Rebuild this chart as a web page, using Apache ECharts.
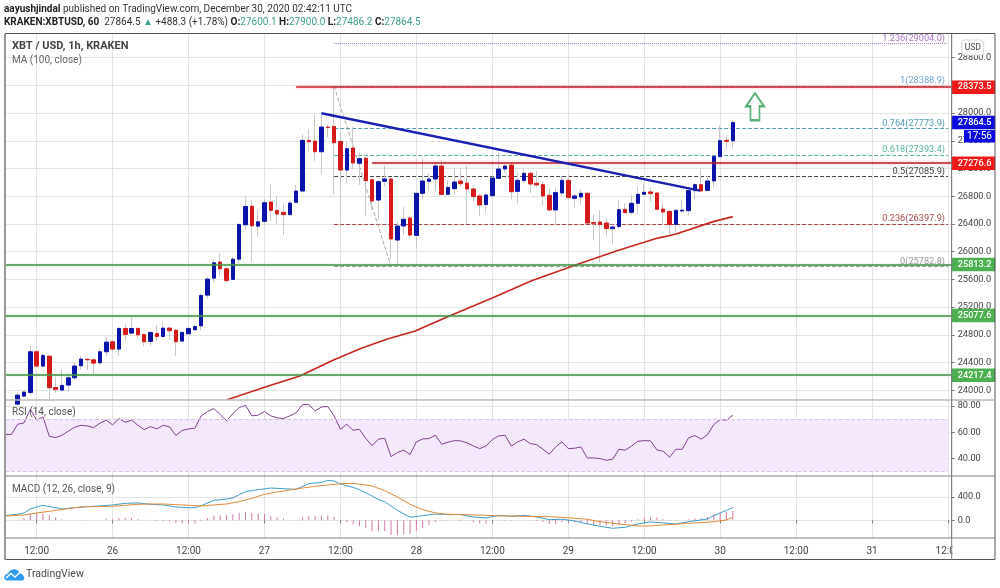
<!DOCTYPE html>
<html>
<head>
<meta charset="utf-8">
<style>html,body{margin:0;padding:0;background:#fff}#c{width:1000px;height:588px}</style>
<script src="https://cdn.jsdelivr.net/npm/echarts@6/dist/echarts.min.js"></script>
</head>
<body>
<div id="c"></div>
<script>
const candleHours = [9,10,11,12,13,14,15,16,17,18,19,20,21,22,23,24,25,26,27,28,29,30,31,32,33,34,35,36,37,38,39,40,41,42,43,44,45,46,47,48,49,50,51,52,53,54,55,56,57,58,59,60,61,62,63,64,65,66,67,68,69,70,71,72,73,74,75,76,77,78,79,80,81,82,83,84,85,86,87,88,89,90,91,92,93,94,95,96,97,98,99,100,101,102,103,104,105,106,107,108,109,110,111,112,113,114,115,116,117,118,119,120,121,122];
const opens = [23800,23916,23969,24556,24349,24493,24040,24003,24075,24180,24353,24447,24440,24397,24556,24700,24594,24892,24825,24892,24805,24705,24820,24776,24897,24868,24710,24815,24873,24930,25373,25618,25850,25753,25600,25892,26388,26657,26369,26438,26717,26596,26567,26534,26712,26875,27606,27596,27442,27798,27808,27592,27178,27496,27275,27347,27039,26745,27015,27049,26168,26370,26486,26235,26842,27015,27049,27236,26827,26909,27019,26990,26904,26804,26679,26808,27058,27193,27250,26870,27025,27131,26987,26967,26813,26602,26847,27030,26770,26790,26842,26420,26428,26414,26332,26361,26611,26568,26698,26828,26862,26847,26615,26582,26395,26587,26592,26881,26967,26885,27020,27371,27606,27600.1];
const closes = [23930,23974,24556,24349,24503,24036,24012,24070,24180,24350,24450,24440,24392,24556,24695,24594,24892,24805,24892,24800,24700,24835,24776,24897,24859,24700,24835,24892,24921,25368,25604,25840,25753,25585,25892,26393,26652,26374,26431,26707,26596,26544,26534,26702,26875,27606,27587,27442,27798,27790,27572,27178,27486,27280,27342,27025,26731,27010,27049,26183,26370,26467,26240,26842,27020,27049,27236,26827,26928,27005,26981,26904,26794,26674,26818,27063,27193,27236,26865,27029,27131,26977,26963,26804,26602,26852,27030,26780,26804,26842,26414,26410,26394,26332,26356,26606,26563,26698,26828,26857,26838,26611,26572,26390,26597,26600,26881,26967,26876,27020,27376,27602,27592,27864.5];
const lows = [23780,23900,23930,24340,24330,23870,23964,23995,23980,24155,24300,24290,24233,24363,24493,24546,24493,24714,24820,24733,24637,24642,24714,24760,24724,24493,24700,24805,24868,24868,25325,25556,25647,25541,25590,25830,26311,25855,26215,26385,26448,26400,26241,26525,26700,26865,27428,27308,27116,27650,26827,26409,26986,27188,26963,26505,26601,26457,26948,25895,25784,26240,26207,26048,26770,26881,26890,26820,26817,26832,26938,26400,26721,26515,26563,26795,27050,27131,26755,26698,26996,26842,26929,26660,26590,26395,26794,26770,26650,26674,26405,26178,25842,26217,26111,26350,26553,26530,26539,26820,26722,26600,26400,26241,26241,26553,26520,26760,26866,26880,26914,27360,27501,27486.2];
const highs = [23960,23990,24637,24580,24530,24510,24195,24300,24243,24400,24493,24460,24460,24604,24762,24720,24915,24955,25050,24915,24820,24845,24940,24978,24915,24885,24845,24915,24940,25407,25638,25888,25974,25780,25925,26410,26792,26744,26600,26770,26957,26803,26698,26730,26962,27693,27765,27972,27972,27838,28388,27731,27600,27803,27428,27400,27060,27030,27237,27060,26432,26650,26515,26870,27347,27131,27300,27322,27034,27202,27202,27236,26962,26840,26840,27106,27443,27260,27290,27131,27203,27170,27169,27010,26915,26929,27092,27106,26830,26900,26855,26539,26600,26481,26400,26746,26698,26818,26938,26986,26929,26855,26698,26590,26610,26750,26900,26990,27188,27092,27400,27828,27683,27900];

const rsiValues = [58.2,58.2,66.1,67.1,77.6,69.2,71.7,56.9,55.9,57.7,60.8,63.8,65.3,64.8,63.6,66.9,69.2,65.6,70.4,67.6,69.2,65.3,62,64.3,62.5,65.3,64.1,57.5,61.3,62.5,63.1,72.5,75.8,78.1,73.5,68.7,74.2,78.8,80.6,72.5,73,75.8,72.5,71,70.4,72.5,74.8,81.1,81.1,76.3,79.3,79.6,72.5,62.3,66.1,61.5,62.3,55.2,49.8,54.7,55.4,41.4,44.5,46.3,43,52.6,54.9,55.2,57.7,50.8,52.4,53.6,53.4,51.9,49.5,47.5,49.5,54.4,57.2,57.7,49.5,52.6,54.7,51.3,50.6,47,43.2,48.8,52.6,47.5,47.8,48.8,40.4,40.4,39.9,38.6,39.4,47,46.3,49.5,53.1,53.6,53.4,46.5,45.5,40.9,47,47,55.7,57.5,54.7,58.2,65.9,69.7,69.2,73];
const rsiStartHour = 7;

const macdHours = [7,9,10,11,12,13,14,15,16,18,20,22,24,26,28,30,32,34,36,37,38,40,42,43,45,47,49,51,53,55,57,58,59,60,62,63,65,66,67,69,71,73,75,77,79,81,83,85,87,89,91,93,95,97,99,101,103,105,107,109,111,113,115,117,118,119,120,121,122];
const macdValues = [80,103,126,194,228,257,234,217,194,217,234,246,263,291,297,274,263,228,217,217,251,343,365,383,491,525,554,542,531,628,651,685,674,622,565,525,417,354,320,171,51,80,108,97,97,57,40,86,69,86,57,11,17,-11,-63,-103,-137,-120,-63,-29,-46,-63,-23,6,23,80,126,171,217];
const signalHours = [7,10,12,14,16,18,20,22,24,26,28,30,32,34,36,38,40,42,44,46,48,50,52,54,56,58,60,62,64,65,67,69,71,73,75,77,79,81,83,85,87,89,91,93,95,97,99,101,103,105,107,109,111,113,115,117,119,121,122];
const signalValues = [74,91,126,154,183,217,234,234,240,257,274,280,280,268,257,246,263,280,320,377,445,485,520,554,582,605,628,634,605,588,508,400,274,183,126,103,97,91,86,74,74,69,63,63,51,34,17,-23,-51,-74,-97,-97,-80,-69,-51,-40,-23,6,51];
const histStartHour = 8;
const histValues = [6,11,34,103,126,114,91,51,17,6,6,6,6,6,6,29,17,40,40,40,23,11,0,-11,-17,-17,-46,-51,-57,-51,-11,40,80,86,86,103,131,148,126,108,108,69,51,29,6,6,46,69,69,86,86,57,0,-34,-69,-103,-137,-188,-183,-188,-251,-257,-240,-234,-183,-131,-80,-29,-11,-6,0,-11,-6,-34,-57,-57,-17,-6,6,-6,0,0,-6,-11,-29,-63,-63,-34,-46,-34,-46,-69,-74,-86,-91,-97,-80,-57,-23,17,46,57,46,17,-6,-6,0,17,34,40,57,103,126,143,160];

const maHours = [42,48,53.6,58.9,63.1,67.3,71.8,77.3,83.9,90.2,97.6,103.7,110,112.9,118.9,122];
const maValues = [23860,24043,24206,24437,24600,24736,24856,25076,25328,25581,25822,26014,26193,26251,26433,26505];

const trendHours = [57,116.8];
const trendValues = [27997,26880];
const diagHours = [59,68];
const diagValues = [28388.9,25782.8];

const fibRatios = ['1.236','1','0.764','0.618','0.5','0.236','0'];
const fibPrices = [29004.0,28388.9,27773.9,27393.4,27085.9,26397.9,25782.8];
const fibColors = ['#a678c4','#6fa8cc','#4f9db0','#4fb39c','#444444','#a84848','#9a9a9a'];

const hLevels = [28373.5,27276.6,25813.2,25077.6,24217.4];
const hStart = [53,65,7,7,7];
const hColors = ['#c4222a','#b5202a','#3f9142','#3f9142','#3f9142'];
const tagColors = ['#f21818','#f21818','#4caf50','#4caf50','#4caf50'];

const xTickHours = [12,24,36,48,60,72,84,96,108,120,132,144,156];
const xTickLabels = ['12:00','26','12:00','27','12:00','28','12:00','29','12:00','30','12:00','31','12:00'];
const priceTicks = [24000,24400,24800,25200,25600,26000,26400,26800,27200,27600,28000,28400,28800];
const rsiTicks = [40,60,80];
const macdTicks = [0,400];

const lastPrice = 27864.5;
const xMin = 7, xMax = 156.58, fibEnd = 156;
const FONT = 'Roboto, sans-serif';
const gridLine = {show:true, lineStyle:{color:'#e4e4e4', width:1}};

function zip(a,b){ return a.map((v,i)=>[v,b[i]]); }

function xAxis(i, showLabels){
  return {
    type:'value', gridIndex:i, min:xMin, max:xMax,
    splitLine:gridLine,
    axisLine:{show:false},
    axisTick:{show:showLabels, customValues:xTickHours, length:3, lineStyle:{color:'#777'}},
    axisLabel:{show:showLabels, customValues:xTickHours, margin:8, fontFamily:FONT, fontSize:10, color:'#444',
      formatter:v=>xTickLabels[xTickHours.indexOf(v)]}
  };
}
function yAxis(i,min,max,ticks,dec){
  return {
    type:'value', gridIndex:i, position:'right', min:min, max:max, scale:true,
    splitLine:gridLine,
    axisLine:{show:true, lineStyle:{color:'#777',width:1}},
    axisTick:{show:true, customValues:ticks, length:3, lineStyle:{color:'#777'}},
    axisLabel:{customValues:ticks, margin:6, fontFamily:FONT, fontSize:9.2, color:'#444',
      formatter:v=>v.toFixed(dec)}
  };
}
function tagLabel(p,color){
  return {show:true, position:'end', distance:0, formatter:p.toFixed(1), color:'#fff', fontFamily:FONT, fontSize:9.2, fontWeight:500,
          backgroundColor:color, padding:[2.5,0,2,6], width:37.5, align:'left'};
}

const fibLines = fibPrices.map((p,i)=>[
  {coord:[59,p], lineStyle:{color:fibColors[i],type:i===0?'dotted':'dashed',width:1},
   label:{show:true, position:'insideEndTop', distance:[0,2], offset:[-3,1.5], formatter:fibRatios[i]+'('+p.toFixed(1)+')', color:fibColors[i], fontFamily:FONT, fontSize:9.2}},
  {coord:[fibEnd,p]}
]);
const levelLines = hLevels.map((p,i)=>[
  {coord:[hStart[i],p], lineStyle:{color:hColors[i],width:1.5,type:'solid',shadowColor:i<2?'rgba(255,60,60,.45)':'rgba(90,200,90,.35)',shadowBlur:3},
   label:tagLabel(p,tagColors[i])},
  {coord:[xMax,p]}
]);
const lastLine = [
  {coord:[122,lastPrice], lineStyle:{color:'rgba(0,0,0,0)',width:0}, label:tagLabel(lastPrice,'#0a0ae0')},
  {coord:[xMax,lastPrice]}
];

const option = {
  animation:false,
  backgroundColor:'#fff',
  grid:[
    {left:5,right:48.3,top:34,height:365.5},
    {left:5,right:48.3,top:400,height:76},
    {left:5,right:48.3,top:476,height:62}
  ],
  xAxis:[xAxis(0,false),xAxis(1,false),xAxis(2,true)],
  yAxis:[
    yAxis(0,23867,29141,priceTicks,1),
    yAxis(1,26.6,84.6,rsiTicks,2),
    yAxis(2,-304,760,macdTicks,1)
  ],
  series:[
    {type:'line', name:'MA', xAxisIndex:0,yAxisIndex:0, data:zip(maHours,maValues), showSymbol:false, z:3,
     lineStyle:{color:'#c62820',width:1.7}},
    {type:'candlestick', name:'wicks', xAxisIndex:0,yAxisIndex:0, barWidth:1, z:2,
     data:candleHours.map((h,i)=>[h,opens[i],closes[i],lows[i],highs[i]]),
     itemStyle:{color:'#c9c9c9',color0:'#c9c9c9',borderColor:'#c9c9c9',borderColor0:'#c9c9c9',borderWidth:1}},
    {type:'candlestick', name:'XBT/USD', xAxisIndex:0,yAxisIndex:0, barWidth:4, z:3,
     data:candleHours.map((h,i)=>[h,opens[i],closes[i],Math.min(opens[i],closes[i]),Math.max(opens[i],closes[i])]),
     itemStyle:{color:'#0a14aa',color0:'#d41a1a',borderColor:'#0a14aa',borderColor0:'#d41a1a',borderWidth:1}},
    {type:'line', name:'fibonacci', xAxisIndex:0,yAxisIndex:0, data:zip(diagHours,diagValues), showSymbol:false, z:2,
     lineStyle:{color:'#a8a8a8',width:1,type:'dashed'},
     markLine:{silent:true, symbol:'none', animation:false, z:2, data:fibLines}},
    {type:'line', name:'levels', xAxisIndex:0,yAxisIndex:0, data:[[xMax,hLevels[0]]], showSymbol:false, clip:false, z:5,
     markLine:{silent:true, symbol:'none', animation:false, z:5, data:levelLines.concat([lastLine])}},
    {type:'line', name:'trend', xAxisIndex:0,yAxisIndex:0, data:zip(trendHours,trendValues), showSymbol:false, z:6,
     lineStyle:{color:'#1a1fb4',width:2.4}},
    {type:'scatter', name:'arrow', xAxisIndex:0,yAxisIndex:0, data:[[125.5,28092]], z:6,
     symbol:'path://M10 0 L20 14.5 L15 14.5 L15 30 L5 30 L5 14.5 L0 14.5 Z', symbolSize:[18,27],
     itemStyle:{color:'#fff',borderColor:'#2f9e55',borderWidth:2}},
    {type:'line', name:'RSI', xAxisIndex:1,yAxisIndex:1, showSymbol:false, z:4,
     data:rsiValues.map((v,i)=>[rsiStartHour+i,v]),
     lineStyle:{color:'#80408f',width:1},
     markArea:{silent:true, itemStyle:{color:'#f4e8fd'}, data:[[{coord:[xMin,70]},{coord:[fibEnd,30]}]]},
     markLine:{silent:true, symbol:'none', animation:false,
       lineStyle:{color:'#d9c6e6',type:'dashed',width:1}, label:{show:false},
       data:[[{coord:[xMin,70]},{coord:[fibEnd,70]}],[{coord:[xMin,30]},{coord:[fibEnd,30]}]]}},
    {type:'bar', name:'Histogram', xAxisIndex:2,yAxisIndex:2, barWidth:1, z:2,
     data:histValues.map((v,i)=>[histStartHour+i,v]),
     itemStyle:{color:'#d07aa8'}},
    {type:'line', name:'MACD', xAxisIndex:2,yAxisIndex:2, data:zip(macdHours,macdValues), showSymbol:false, z:3,
     lineStyle:{color:'#3f9fc8',width:1}},
    {type:'line', name:'Signal', xAxisIndex:2,yAxisIndex:2, data:zip(signalHours,signalValues), showSymbol:false, z:4,
     lineStyle:{color:'#e08a3a',width:1}}
  ],
  graphic:[
    {type:'rect', z:90, shape:{x:952.5,y:539,width:42,height:20}, style:{fill:'#fff'}},
    {type:'rect', z:91, shape:{x:5,y:33.5,width:990,height:526}, style:{fill:'none',stroke:'#555',lineWidth:1}},
    {type:'line', z:91, shape:{x1:5,y1:400,x2:995,y2:400}, style:{stroke:'#b8b8b8',lineWidth:1.5}},
    {type:'line', z:91, shape:{x1:5,y1:476,x2:995,y2:476}, style:{stroke:'#808080',lineWidth:1}},
    {type:'line', z:91, shape:{x1:5,y1:538,x2:995,y2:538}, style:{stroke:'#808080',lineWidth:1}},
    {type:'line', z:91, shape:{x1:951.7,y1:34,x2:951.7,y2:560}, style:{stroke:'#808080',lineWidth:1}},
    {type:'line', z:91, shape:{x1:5,y1:34,x2:5,y2:560}, style:{stroke:'#999',lineWidth:2}},
    {type:'rect', z:92, shape:{x:964,y:130,width:31,height:12.5}, style:{fill:'#0a0ae0'}},
    {type:'text', z:93, x:979.5, y:136.5, style:{text:'17:56', fill:'#fff', font:'10px '+FONT, textAlign:'center', textVerticalAlign:'middle'}},
    {type:'rect', z:92, shape:{x:961.7,y:40,width:22,height:15,r:3}, style:{fill:'#fff',stroke:'#d8d8d8',lineWidth:1}},
    {type:'text', z:93, x:972.7, y:47.5, style:{text:'USD', fill:'#444', font:'8.5px '+FONT, textAlign:'center', textVerticalAlign:'middle'}},
    {type:'text', z:93, x:4, y:9, style:{text:'{b|aayushjindal} published on TradingView.com, December 30, 2020 02:42:11 UTC',
      font:'10px '+FONT, fill:'#333', textVerticalAlign:'middle', rich:{b:{font:'bold 10px '+FONT, fill:'#222'}}}},
    {type:'text', z:93, x:4, y:22.5, style:{text:'{b|KRAKEN:XBTUSD, 60}  27864.5 {t|▲} +488.3 (+1.78%) {b|O:}{t|27600.1} {b|H:}{t|27900.0} {b|L:}{t|27486.2} {b|C:}{t|27864.5}',
      font:'10px '+FONT, fill:'#333', textVerticalAlign:'middle',
      rich:{b:{font:'bold 10px '+FONT, fill:'#222'}, t:{font:'10px '+FONT, fill:'#3d9f8f'}}}},
    {type:'text', z:93, x:12, y:46, style:{text:'XBT / USD, 1h, KRAKEN', font:'bold 11px '+FONT, fill:'#444', textVerticalAlign:'middle'}},
    {type:'text', z:93, x:12, y:60, style:{text:'MA (100, close)', font:'10px '+FONT, fill:'#666', textVerticalAlign:'middle'}},
    {type:'text', z:93, x:12, y:412.5, style:{text:'RSI (14, close)', font:'10px '+FONT, fill:'#555', textVerticalAlign:'middle'}},
    {type:'text', z:93, x:12, y:489.5, style:{text:'MACD (12, 26, close, 9)', font:'10px '+FONT, fill:'#555', textVerticalAlign:'middle'}},
    {type:'polygon', z:93, shape:{points:[[4,578],[5,575],[8,573.5],[10,570.5],[14,569],[18,570.5],[20,573],[23,575],[24.5,578],[23,580.5],[6,580.5]]}, style:{fill:'#2e9bef'}},
    {type:'polyline', z:94, shape:{points:[[6,578],[11,573.5],[15,577],[21,571.5]]}, style:{stroke:'#fff',fill:'none',lineWidth:1.4}},
    {type:'text', z:93, x:26, y:574, style:{text:'TradingView', font:'10.5px '+FONT, fill:'#4a4a4a', textVerticalAlign:'middle'}}
  ]
};
const chart = echarts.init(document.getElementById('c'),null,{renderer:'canvas'});
chart.setOption(option);
</script>
</body>
</html>
